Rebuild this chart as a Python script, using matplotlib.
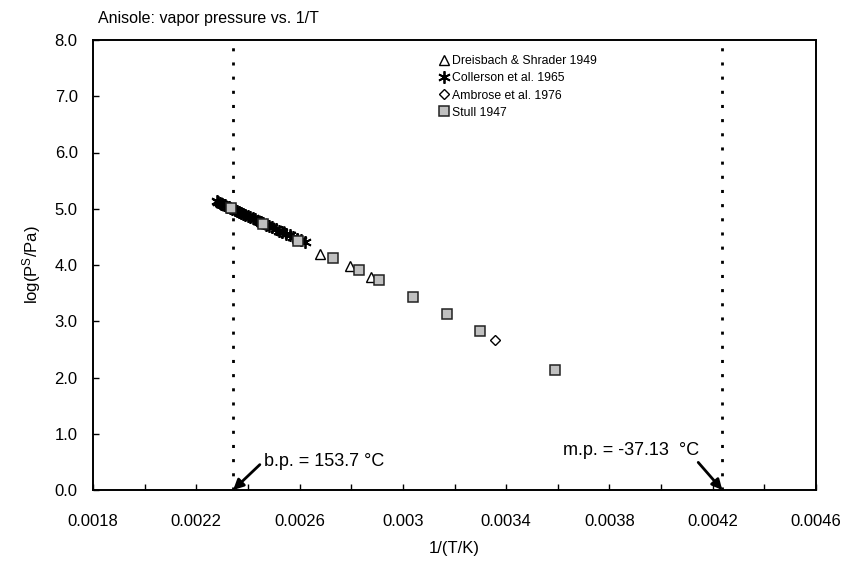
import matplotlib
matplotlib.use("Agg")
import matplotlib.pyplot as plt
from matplotlib.ticker import MultipleLocator, FuncFormatter

plt.rcParams['font.family'] = ['Liberation Sans', 'DejaVu Sans']
plt.rcParams['mathtext.fontset'] = 'custom'
plt.rcParams['mathtext.rm'] = 'Liberation Sans'
plt.rcParams['mathtext.it'] = 'Liberation Sans:italic'

# ---- data ----
dreis_x = [0.002679, 0.002796, 0.002877, 0.002540, 0.002450]
dreis_y = [4.20, 3.99, 3.78, 4.60, 4.79]

coll_x = [0.002280, 0.002285, 0.002290, 0.002295, 0.002300, 0.002306, 0.002312,
          0.002318, 0.002325, 0.002332, 0.002340, 0.002348, 0.002356, 0.002364,
          0.002372, 0.002381, 0.002390, 0.002399, 0.002408, 0.002418, 0.002428,
          0.002438, 0.002449, 0.002460, 0.002471, 0.002483, 0.002495, 0.002507,
          0.002520, 0.002533, 0.002547, 0.002561, 0.002576, 0.002591, 0.002606,
          0.002622]
coll_y = [5.13, 5.12, 5.10, 5.09, 5.08, 5.07, 5.06, 5.04, 5.03, 5.01, 5.00, 4.98,
          4.96, 4.94, 4.93, 4.91, 4.89, 4.87, 4.85, 4.83, 4.81, 4.79, 4.77, 4.74,
          4.72, 4.69, 4.67, 4.64, 4.61, 4.59, 4.56, 4.53, 4.50, 4.47, 4.44, 4.41]

amb_x = [0.003355]
amb_y = [2.67]

stull_x = [0.003590, 0.003299, 0.003171, 0.003040, 0.002908, 0.002832,
           0.002731, 0.002594, 0.002457, 0.002333]
stull_y = [2.125, 2.824, 3.125, 3.426, 3.727, 3.903, 4.125, 4.426, 4.727, 5.006]

bp_x = 0.0023428
mp_x = 0.004237
bp_label = "b.p. = 153.7 °C"
mp_label = "m.p. = -37.13  °C"

fig = plt.figure(figsize=(8.55, 5.69), dpi=100)
ax = fig.add_axes([93/855, 1-490/569, (816-93)/855, 450/569])

ax.plot(dreis_x, dreis_y, linestyle='none', marker='^', ms=6.5, mfc='white',
        mec='black', mew=1, label='Dreisbach & Shrader 1949', zorder=3)
ax.plot(coll_x, coll_y, linestyle='none', marker=(6, 2, 0), ms=9, mec='black',
        mew=1.3, label='Collerson et al. 1965', zorder=4)
ax.plot(amb_x, amb_y, linestyle='none', marker='D', ms=5, mfc='white',
        mec='black', mew=1, label='Ambrose et al. 1976', zorder=3)
ax.plot(stull_x, stull_y, linestyle='none', marker='s', ms=6.8, mfc='#c0c0c0',
        mec='#222222', mew=1.1, label='Stull 1947', zorder=5)

for xv in (bp_x, mp_x):
    ax.plot([xv, xv], [0, 8], color='black', lw=2, linestyle=(0, (1.1, 4)), zorder=2)

ax.set_xlim(0.0018, 0.0046)
ax.set_ylim(0, 8)
ax.xaxis.set_major_locator(MultipleLocator(0.0002))
ax.yaxis.set_major_locator(MultipleLocator(1.0))

def xfmt(v, pos):
    k = round((v - 0.0018) / 0.0002)
    if k % 2 != 0:
        return ''
    return f"{v:.4f}".rstrip('0')

ax.xaxis.set_major_formatter(FuncFormatter(xfmt))
ax.yaxis.set_major_formatter(FuncFormatter(lambda v, p: f"{v:.1f}"))
ax.tick_params(direction='in', length=4, width=1, labelsize=12)
ax.tick_params(axis='x', pad=17)
ax.tick_params(axis='y', pad=11)
for s in ax.spines.values():
    s.set_linewidth(1.4)
    s.set_color('black')

ax.set_xlabel('1/(T/K)', fontsize=12, labelpad=9)
ax.set_ylabel('log(P$^{\\mathrm{S}}$/Pa)', fontsize=12, labelpad=8)

fig.text(98/855, 1-18/569, 'Anisole: vapor pressure vs. 1/T', fontsize=11.5,
         ha='left', va='center')

ax.annotate(bp_label, xy=(bp_x, 0), xytext=(bp_x + 0.000118, 0.50),
            fontsize=13, ha='left', va='center',
            arrowprops=dict(arrowstyle='-|>', color='black', lw=2,
                            mutation_scale=15, shrinkA=1, shrinkB=0,
                            relpos=(0.0, 0.55)))
ax.annotate(mp_label, xy=(mp_x, 0), xytext=(0.003622, 0.71),
            fontsize=13, ha='left', va='center',
            arrowprops=dict(arrowstyle='-|>', color='black', lw=2,
                            mutation_scale=15, shrinkA=1, shrinkB=0,
                            relpos=(0.96, 0.05)))

leg = ax.legend(loc='upper left', bbox_to_anchor=(0.468, 0.985), frameon=False,
                fontsize=8.8, handlelength=0.7, handletextpad=0.3,
                labelspacing=0.42, borderpad=0.2)

fig.savefig('out.png', dpi=100)
